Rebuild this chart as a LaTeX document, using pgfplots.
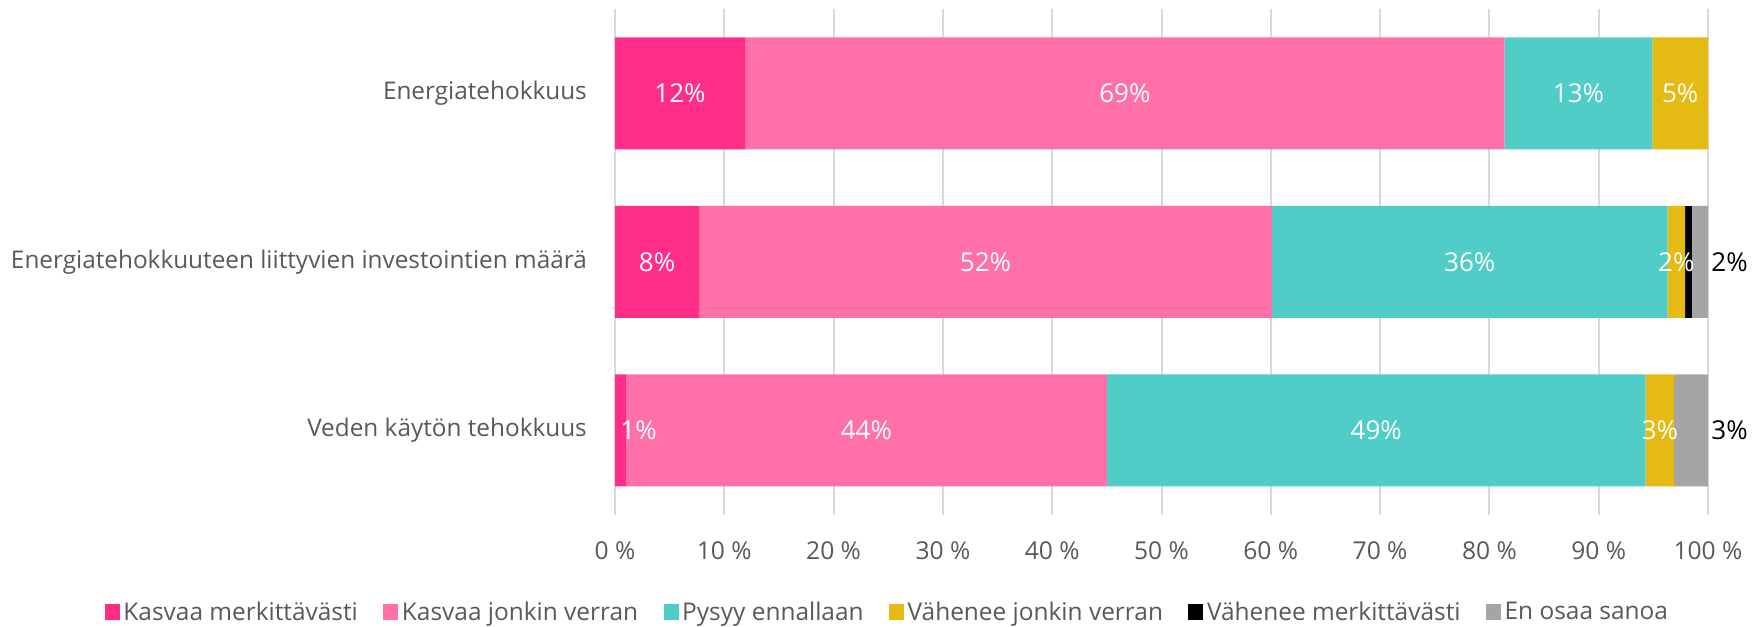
\documentclass[border=0pt]{standalone}
\usepackage{fontspec}
\setmainfont{Open Sans}
\usepackage{pgfplots}
\pgfplotsset{compat=1.18}

\definecolor{kasvaaM}{HTML}{FF2D87}
\definecolor{kasvaaJ}{HTML}{FF70A8}
\definecolor{pysyy}{HTML}{50CDC7}
\definecolor{vaheneeJ}{HTML}{E4BA13}
\definecolor{vaheneeM}{HTML}{000000}
\definecolor{eos}{HTML}{A5A5A5}
\definecolor{gridgray}{HTML}{D9D9D9}
\definecolor{labgray}{HTML}{595959}

\pgfplotsset{
  frame/.style={
    at={(123mm,22.3mm)}, anchor=south west,
    scale only axis, width=218.6mm, height=101.1mm,
    xmin=0, xmax=100, ymin=-0.5, ymax=2.5, y dir=reverse},
}

\begin{document}
\begin{tikzpicture}
\path[use as bounding box] (0,0) rectangle (350.8mm,125.2mm);
\begin{axis}[
  frame,
  xbar stacked, bar width=22.4mm,
  ytick={0,1,2},
  yticklabels={Energiatehokkuus,
    Energiatehokkuuteen liittyvien investointien määrä,
    Veden käytön tehokkuus},
  xtick={0,10,...,100},
  xticklabels={0 \%,10 \%,20 \%,30 \%,40 \%,50 \%,60 \%,70 \%,80 \%,90 \%,100 \%},
  axis line style={draw=none}, major tick length=0,
  xmajorgrids, grid style={gridgray, line width=0.4mm},
  tick label style={text=labgray},
  xticklabel style={yshift=-4.1mm, font=\fontsize{14}{16}\selectfont},
  yticklabel style={xshift=-4.4mm, font=\fontsize{13.85}{16}\selectfont},
  legend style={at={(0.25,-0.193)}, anchor=center, draw=none,
    legend columns=-1, text=labgray, font=\fontsize{13.9}{16}\selectfont,
    /tikz/every even column/.append style={column sep=4.4mm}},
  legend image code/.code={\fill[#1] (0mm,-1.6mm) rectangle (3.0mm,1.6mm);},
]
\addplot[fill=kasvaaM, draw=none] coordinates {(11.9,0) (7.7,1) (1.0,2)};
\addplot[fill=kasvaaJ, draw=none] coordinates {(69.5,0) (52.4,1) (44.0,2)};
\addplot[fill=pysyy, draw=none] coordinates {(13.5,0) (36.2,1) (49.3,2)};
\addplot[fill=vaheneeJ, draw=none] coordinates {(5.1,0) (1.6,1) (2.6,2)};
\addplot[fill=vaheneeM, draw=none] coordinates {(0,0) (0.6,1) (0,2)};
\addplot[fill=eos, draw=none] coordinates {(0,0) (1.5,1) (3.1,2)};
\legend{Kasvaa merkittävästi, Kasvaa jonkin verran, Pysyy ennallaan,
  Vähenee jonkin verran, Vähenee merkittävästi, En osaa sanoa}
\end{axis}
% data labels: centre of each segment
\begin{axis}[frame, hide axis]
\addplot[draw=none, mark=none, nodes near coords, point meta=explicit symbolic,
  nodes near coords style={anchor=center, text=white,
    font=\fontsize{14.8}{16}\selectfont}]
  coordinates {
  (5.95,0) [12\%] (46.65,0) [69\%] (88.15,0) [13\%] (97.45,0) [5\%]
  (3.85,1) [8\%] (33.9,1) [52\%] (78.2,1) [36\%] (97.1,1) [2\%]
  (0.5,2) [\rlap{1\%}] (23.0,2) [44\%] (69.65,2) [49\%] (95.6,2) [3\%]
  };
\addplot[draw=none, mark=none, nodes near coords, point meta=explicit symbolic,
  nodes near coords style={anchor=west, text=black, inner sep=0.6mm,
    font=\fontsize{14.8}{16}\selectfont}]
  coordinates {(100,1) [2\%] (100,2) [3\%]};
\end{axis}
\end{tikzpicture}
\end{document}
